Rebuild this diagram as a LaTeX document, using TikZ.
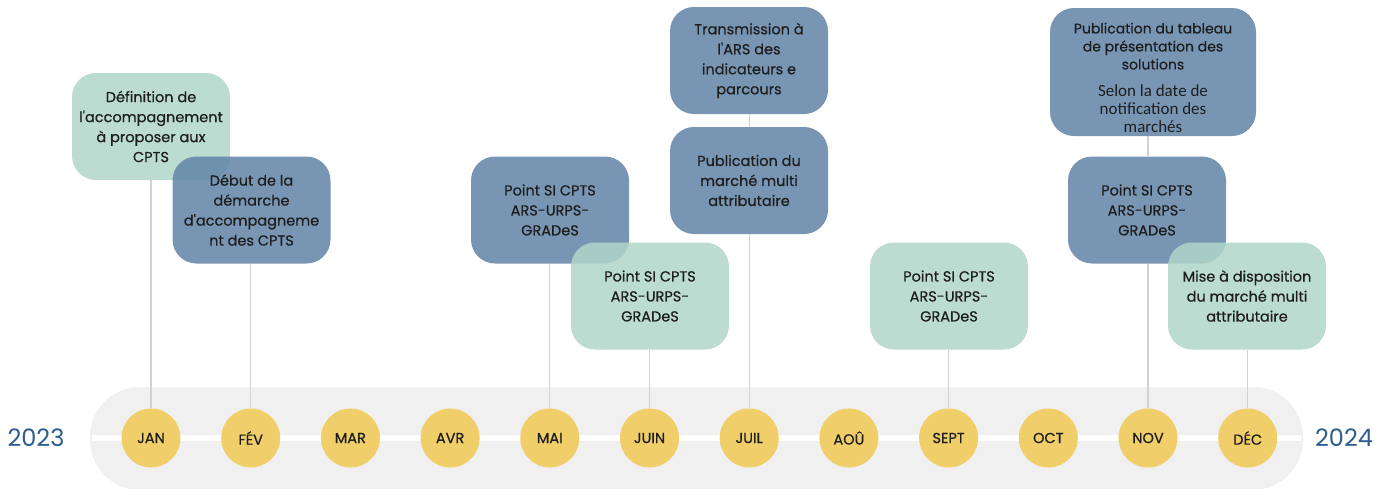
\documentclass[tikz,border=0pt]{standalone}
\usepackage{fontspec}
\setmainfont{Poppins}
\newfontfamily\boxfont{Poppins}[FakeBold=0.6]
\newfontfamily\notefont{Carlito}
\usetikzlibrary{positioning}
\definecolor{boxblue}{HTML}{6084A7}
\definecolor{boxgreen}{HTML}{B0D6CA}
\definecolor{monthgold}{HTML}{F0CE6A}
\definecolor{bandgray}{HTML}{F0F0F0}
\definecolor{yearblue}{HTML}{2D5D8E}
\definecolor{stemgray}{HTML}{D2D2D2}
\definecolor{ink}{HTML}{1E1E1E}
\pgfdeclarelayer{back}
\pgfdeclarelayer{stems}
\pgfsetlayers{back,stems,main}

\begin{document}
\begin{tikzpicture}[x=1pt,y=-1pt,
  event/.style={rounded corners=24pt, minimum width=158pt, minimum height=107pt,
    inner sep=2pt, align=center, font=\boxfont\fontsize{14.5}{20}\selectfont, text=ink,
    fill opacity=0.85, text opacity=1},
  blue event/.style={event, fill=boxblue},
  green event/.style={event, fill=boxgreen},
  month/.style={circle, fill=monthgold, minimum size=59pt, inner sep=0pt,
    font=\boxfont\fontsize{14.5}{14.5}\selectfont, text=ink},
  year/.style={font=\fontsize{24}{24}\selectfont, text=yearblue},
  stemline/.style={stemgray, line width=1.2pt}]
  \useasboundingbox (0,0) rectangle (1387,488);

  % Band with the months
  \begin{pgfonlayer}{back}
    \fill[bandgray, rounded corners=50pt] (90,387) rectangle (1303,490);
    \draw[white, line width=6pt] (92,438) -- (1301,438);
  \end{pgfonlayer}
  \foreach \lab [count=\i] in {JAN,FÉV,MAR,AVR,MAI,JUIN,JUIL,AOÛ,SEPT,OCT,NOV,DÉC}
    \node[month] (m\i) at ({151+99.7*(\i-1)},438) {\lab};

  % Years
  \node[year] (y2023) at (36,438) {2023};
  \node[year] (y2024) at (1344,438) {2024};

  % Events
  \node[green event] (e1) at (151,126.5) {Définition de\\l'accompagnement\\à proposer aux\\CPTS};
  \node[blue event] (e2) at (251.5,210) {Début de la\\démarche\\d'accompagneme\\nt des CPTS};
  \node[blue event] (e3) at (550,210) {Point SI CPTS\\ARS-URPS-\\GRADeS};
  \node[green event] (e4) at (650,296) {Point SI CPTS\\ARS-URPS-\\GRADeS};
  \node[blue event] (e5) at (749,60.5) {Transmission à\\l'ARS des\\indicateurs e\\parcours};
  \node[blue event] (e6) at (749,180.5) {Publication du\\marché multi\\attributaire};
  \node[green event] (e7) at (949,296) {Point SI CPTS\\ARS-URPS-\\GRADeS};
  \node[blue event, minimum width=206pt, minimum height=128pt,
    font=\boxfont\fontsize{14}{18}\selectfont] (e8) at (1153,72)
    {\rule{0pt}{22pt}Publication du tableau\\de présentation des\\solutions\\[9pt]
     \notefont\fontsize{17}{17}\selectfont Selon la date de\\
     \notefont\fontsize{17}{17}\selectfont notification des\\
     \notefont\fontsize{17}{17}\selectfont marchés};
  \node[blue event] (e9) at (1147,210) {Point SI CPTS\\ARS-URPS-\\GRADeS};
  \node[green event] (e10) at (1247,296) {Mise à disposition\\du marché multi\\attributaire};

  % Stems from the months up to the events
  \begin{pgfonlayer}{stems}
    \draw[stemline] (m1.north) -- (m1.north |- e1.south);
    \draw[stemline] (m2.north) -- (m2.north |- e2.south);
    \draw[stemline] (m5.north) -- (m5.north |- e3.south);
    \draw[stemline] (m6.north) -- (m6.north |- e4.south);
    \draw[stemline] (m7.north) -- (m7.north |- e6.south);
    \draw[stemline] (m7.north |- e6.north) -- (m7.north |- e5.south);
    \draw[stemline] (m9.north) -- (m9.north |- e7.south);
    \draw[stemline] (m11.north) -- (m11.north |- e9.south);
    \draw[stemline] (m11.north |- e9.north) -- (m11.north |- e8.south);
    \draw[stemline] (m12.north) -- (m12.north |- e10.south);
  \end{pgfonlayer}
\end{tikzpicture}
\end{document}
